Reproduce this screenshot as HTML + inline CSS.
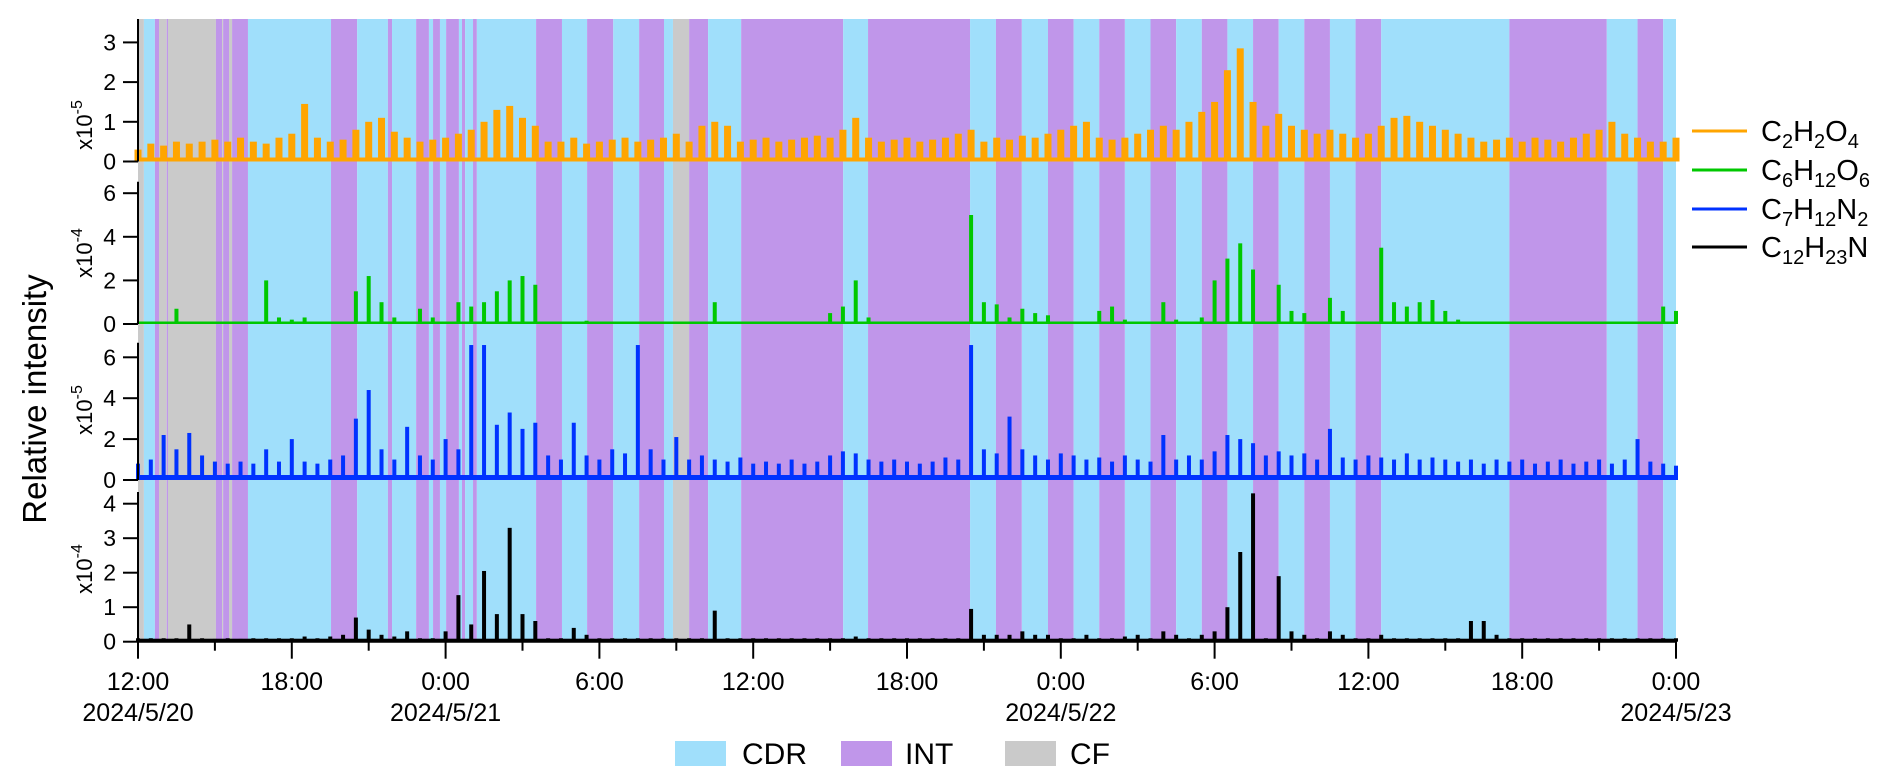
<!DOCTYPE html>
<html><head><meta charset="utf-8"><title>Relative intensity time series</title>
<style>
html,body{margin:0;padding:0;background:#fff;}
svg{display:block;font-family:"Liberation Sans",Arial,sans-serif;}
</style></head>
<body>
<svg id="chart" width="1892" height="782" viewBox="0 0 1892 782" xmlns="http://www.w3.org/2000/svg">
<g id="bands"></g>
<g id="series"></g>
<g id="axes"></g>
<text x="46" y="399" transform="rotate(-90 46 399)" text-anchor="middle" font-size="33" fill="#000">Relative intensity</text>
<g font-size="29">
 <g><line x1="1692" y1="131" x2="1747" y2="131" stroke="#ffa500" stroke-width="3"/><text x="1761" y="141">C<tspan font-size="20" dy="7">2</tspan><tspan dy="-7">H</tspan><tspan font-size="20" dy="7">2</tspan><tspan dy="-7">O</tspan><tspan font-size="20" dy="7">4</tspan></text></g>
 <g><line x1="1692" y1="170" x2="1747" y2="170" stroke="#00c800" stroke-width="3"/><text x="1761" y="180">C<tspan font-size="20" dy="7">6</tspan><tspan dy="-7">H</tspan><tspan font-size="20" dy="7">12</tspan><tspan dy="-7">O</tspan><tspan font-size="20" dy="7">6</tspan></text></g>
 <g><line x1="1692" y1="209" x2="1747" y2="209" stroke="#0032ff" stroke-width="3"/><text x="1761" y="219">C<tspan font-size="20" dy="7">7</tspan><tspan dy="-7">H</tspan><tspan font-size="20" dy="7">12</tspan><tspan dy="-7">N</tspan><tspan font-size="20" dy="7">2</tspan></text></g>
 <g><line x1="1692" y1="247" x2="1747" y2="247" stroke="#000" stroke-width="3"/><text x="1761" y="257">C<tspan font-size="20" dy="7">12</tspan><tspan dy="-7">H</tspan><tspan font-size="20" dy="7">23</tspan><tspan dy="-7">N</tspan></text></g>
</g>
<g font-size="30">
 <g><rect x="675" y="741" width="51" height="25" fill="#a0dffb"/><text x="742" y="764">CDR</text></g>
 <g><rect x="841" y="741" width="51" height="25" fill="#c096ea"/><text x="905" y="764">INT</text></g>
 <g><rect x="1005" y="741" width="51" height="25" fill="#cacaca"/><text x="1070" y="764">CF</text></g>
</g>
</svg>
<script>
// Sample times: hours since 2024/5/20 12:00, every 0.5 h
const sampleStepHours = 0.5;
// Period bands: start hours and types
const bandStarts = [0,0.23,0.66,0.82,1.12,1.17,3.04,3.28,3.32,3.55,3.67,4.29,7.53,8.55,9.75,9.91,10.85,11.35,11.51,11.78,12.02,12.52,12.64,12.76,13.07,13.22,15.53,16.54,17.52,18.54,19.55,20.52,20.87,21.5,22.24,23.53,27.51,28.48,32.46,33.47,34.48,35.5,36.5,37.5,38.5,39.5,40.5,41.5,42.5,43.5,44.5,45.5,46.5,47.5,48.5,53.5,57.3,58.5,59.5];
const bandTypes = ["CF","CDR","INT","CF","INT","CF","INT","CF","INT","CF","INT","CDR","INT","CDR","INT","CDR","INT","CDR","INT","CDR","INT","CDR","INT","CDR","INT","CDR","INT","CDR","INT","CDR","INT","CDR","CF","INT","CDR","INT","CDR","INT","CDR","INT","CDR","INT","CDR","INT","CDR","INT","CDR","INT","CDR","INT","CDR","INT","CDR","INT","CDR","INT","CDR","INT","CDR"];
const endHour = 60;
// Series values (C2H2O4 x1e-5, C6H12O6 x1e-4, C7H12N2 x1e-5, C12H23N x1e-4)
const c2h2o4 = [0.3,0.45,0.4,0.5,0.45,0.5,0.55,0.5,0.6,
 0.5,0.45,0.6,0.7,1.45,0.6,0.5,0.55,
 0.8,1.0,1.1,0.75,0.6,0.5,0.55,0.6,
 0.7,0.8,1.0,1.3,1.4,1.1,0.9,0.5,
 0.5,0.6,0.45,0.5,0.55,0.6,0.5,0.55,
 0.6,0.7,0.5,0.9,1.0,0.9,0.5,0.55,
 0.6,0.5,0.55,0.6,0.65,0.6,0.8,1.1,
 0.6,0.5,0.55,0.6,0.5,0.55,0.6,0.7,
 0.8,0.5,0.6,0.55,0.65,0.6,0.7,0.8,
 0.9,1.0,0.6,0.55,0.6,0.7,0.8,0.9,
 0.8,1.0,1.25,1.5,2.3,2.85,1.5,0.9,
 1.2,0.9,0.8,0.7,0.8,0.7,0.6,0.7,
 0.9,1.1,1.15,1.0,0.9,0.8,0.7,0.6,
 0.5,0.55,0.6,0.5,0.6,0.55,0.5,0.6,
 0.7,0.8,1.0,0.7,0.6,0.5,0.5,0.6];
const c6h12o6 = [0.05,0.05,0.1,0.7,0.05,0.05,0.05,0.05,0.05,
 0.05,2.0,0.3,0.2,0.3,0.05,0.05,0.05,
 1.5,2.2,1.0,0.3,0.05,0.7,0.3,0.05,
 1.0,0.8,1.0,1.5,2.0,2.2,1.8,0.05,
 0.05,0.1,0.15,0.1,0.05,0.05,0.05,0.05,
 0.05,0.05,0.05,0.05,1.0,0.1,0.05,0.05,
 0.05,0.05,0.05,0.05,0.05,0.5,0.8,2.0,
 0.3,0.05,0.05,0.05,0.05,0.05,0.05,0.1,
 5.0,1.0,0.9,0.3,0.7,0.5,0.4,0.1,
 0.05,0.05,0.6,0.8,0.2,0.1,0.1,1.0,
 0.2,0.1,0.3,2.0,3.0,3.7,2.5,0.05,
 1.8,0.6,0.5,0.05,1.2,0.6,0.05,0.05,
 3.5,1.0,0.8,1.0,1.1,0.6,0.2,0.1,
 0.05,0.05,0.05,0.05,0.05,0.05,0.05,0.05,
 0.05,0.05,0.05,0.05,0.05,0.05,0.8,0.6];
const c7h12n2 = [0.8,1.0,2.2,1.5,2.3,1.2,0.9,0.8,0.9,
 0.8,1.5,0.9,2.0,0.9,0.8,1.0,1.2,
 3.0,4.4,1.5,1.0,2.6,1.2,1.0,2.0,
 1.5,6.6,6.6,2.7,3.3,2.5,2.8,1.2,
 1.0,2.8,1.2,1.0,1.5,1.3,6.6,1.5,
 1.0,2.1,1.0,1.2,1.0,0.9,1.1,0.8,
 0.9,0.8,1.0,0.8,0.9,1.2,1.4,1.3,
 1.0,0.9,1.0,0.9,0.8,0.9,1.1,1.0,
 6.6,1.5,1.3,3.1,1.5,1.2,1.0,1.3,
 1.2,1.0,1.1,0.9,1.2,1.0,0.9,2.2,
 1.0,1.2,1.0,1.4,2.2,2.0,1.8,1.2,
 1.4,1.2,1.3,1.0,2.5,1.1,1.0,1.2,
 1.1,1.0,1.3,1.0,1.1,1.0,0.9,1.0,
 0.8,1.0,0.9,1.0,0.8,0.9,1.0,0.8,
 0.9,1.0,0.8,1.0,2.0,0.9,0.8,0.7];
const c12h23n = [0.1,0.1,0.1,0.1,0.5,0.1,0.08,0.1,0.08,
 0.1,0.1,0.1,0.1,0.15,0.1,0.15,0.2,
 0.7,0.35,0.2,0.15,0.3,0.1,0.1,0.3,
 1.35,0.5,2.05,0.8,3.3,0.8,0.6,0.1,
 0.1,0.4,0.2,0.1,0.1,0.1,0.1,0.1,
 0.1,0.1,0.1,0.1,0.9,0.1,0.1,0.1,
 0.1,0.1,0.1,0.1,0.1,0.1,0.1,0.15,
 0.1,0.1,0.1,0.1,0.1,0.1,0.1,0.1,
 0.95,0.2,0.2,0.2,0.3,0.2,0.2,0.1,
 0.1,0.2,0.1,0.1,0.15,0.2,0.1,0.3,
 0.2,0.1,0.2,0.3,1.0,2.6,4.3,0.1,
 1.9,0.3,0.2,0.1,0.3,0.2,0.1,0.1,
 0.2,0.1,0.1,0.1,0.1,0.1,0.1,0.6,
 0.6,0.2,0.1,0.1,0.1,0.1,0.1,0.1,
 0.1,0.1,0.1,0.1,0.1,0.1,0.1,0.1];
const p1Ticks = [0,1,2,3];
const p2Ticks = [0,2,4,6];
const p3Ticks = [0,2,4,6];
const p4Ticks = [0,1,2,3,4];
const xTickHours = [0,6,12,18,24,30,36,42,48,54,60];
const xTickLabels = ["12:00","18:00","0:00","6:00","12:00","18:00","0:00","6:00","12:00","18:00","0:00"];
const xDateLabels = ["2024/5/20","","2024/5/21","","","","2024/5/22","","","","2024/5/23"];

const NS = "http://www.w3.org/2000/svg";
const X0 = 138, X1 = 1676, TOP = 19, BOTTOM = 641.7;
const xScale = h => X0 + (X1 - X0) * h / endHour;
function mk(tag, attrs, parent){const e=document.createElementNS(NS,tag);for(const k in attrs)e.setAttribute(k,attrs[k]);parent.appendChild(e);return e;}
const bandColor = {CDR:"#a0dffb", INT:"#c096ea", CF:"#cacaca"};
const bandsG = document.getElementById("bands");
bandStarts.forEach((s,i)=>{
  const e = (i+1<bandStarts.length)?bandStarts[i+1]:endHour;
  const r = mk("rect",{x:xScale(s),y:TOP,width:Math.max(0.5,xScale(e)-xScale(s)),height:BOTTOM-TOP,fill:bandColor[bandTypes[i]]},bandsG);
  
  
});

const panels = [
 {name:"c2h2o4", data:c2h2o4, color:"#ffa500", y0:161.5, unit:39.7, ticks:p1Ticks, axisTop:TOP, exp:"-5", expY:125, w:7, base:4},
 {name:"c6h12o6", data:c6h12o6, color:"#00c800", y0:324, unit:21.8, ticks:p2Ticks, axisTop:181.7, exp:"-4", expY:253, w:4, base:2.5},
 {name:"c7h12n2", data:c7h12n2, color:"#0032ff", y0:480, unit:20.45, ticks:p3Ticks, axisTop:342.7, exp:"-5", expY:410, w:4, base:5},
 {name:"c12h23n", data:c12h23n, color:"#000000", y0:641.7, unit:34.5, ticks:p4Ticks, axisTop:492, exp:"-4", expY:569, w:4, base:3}
];
const seriesG = document.getElementById("series");
const axesG = document.getElementById("axes");
panels.forEach(p=>{
  const yScale = v => p.y0 - v * p.unit;
  const g = mk("g",{},seriesG);
  
  
  mk("rect",{x:X0,y:yScale(0)-p.base,width:X1-X0,height:p.base,fill:p.color},g);
  p.data.forEach((v,i)=>{
    const x = xScale(i*sampleStepHours);
    const bar = mk("rect",{x:x-p.w/2,y:yScale(v),width:p.w,height:yScale(0)-yScale(v),fill:p.color},g);
    
    
  });
  const ax = mk("g",{},axesG);
  
  
  mk("line",{x1:X0,y1:p.axisTop,x2:X0,y2:p.y0,stroke:"#000","stroke-width":2},ax);
  p.ticks.forEach(t=>{
    const y = yScale(t);
    mk("line",{x1:X0-15,y1:y,x2:X0,y2:y,stroke:"#000","stroke-width":2},ax);
    const tx = mk("text",{x:X0-22,y:y+8,"text-anchor":"end","font-size":23},ax);
    tx.textContent = t;
    
    
  });
  const ex = mk("text",{x:92,y:p.expY,"text-anchor":"middle","font-size":22,transform:"rotate(-90 92 "+p.expY+")"},ax);
  
  
  ex.innerHTML = 'x10<tspan font-size="16" dy="-10">'+p.exp+'</tspan>';
});
const xa = mk("g",{},axesG);


mk("line",{x1:X0-1,y1:BOTTOM,x2:X1+1,y2:BOTTOM,stroke:"#000","stroke-width":2},xa);
for(let h=0;h<=endHour;h+=3){
  const major = h%6===0;
  mk("line",{x1:xScale(h),y1:BOTTOM,x2:xScale(h),y2:BOTTOM+(major?17:9),stroke:"#000","stroke-width":2},xa);
}
xTickHours.forEach((h,i)=>{
  const t = mk("text",{x:xScale(h),y:690,"text-anchor":"middle","font-size":25},xa);
  t.textContent = xTickLabels[i];
  
  
  if(xDateLabels[i]){
    const d = mk("text",{x:xScale(h),y:721,"text-anchor":"middle","font-size":25},xa);
    d.textContent = xDateLabels[i];
    
    
  }
});
</script>
</body></html>
